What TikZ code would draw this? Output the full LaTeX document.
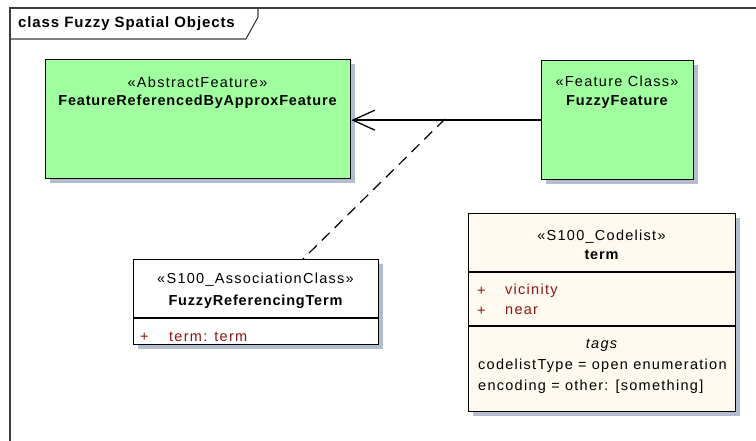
\documentclass[tikz,border=0pt]{standalone}
\usepackage{fontspec}
\setmainfont{Liberation Sans}[LetterSpace=8.8, BoldFeatures={LetterSpace=5.6}]
\newfontfamily\titlefont{Liberation Sans}[LetterSpace=6]
\usetikzlibrary{arrows.meta,shadows}
\definecolor{fgreen}{RGB}{160,255,158}
\definecolor{fcream}{RGB}{255,250,240}
\definecolor{fshadow}{RGB}{180,188,208}
\definecolor{fattr}{RGB}{140,20,20}
\definecolor{fframe}{RGB}{60,60,60}
\begin{document}
\begin{tikzpicture}[x=1pt,y=-1pt,
  font=\fontsize{14.5}{16}\selectfont,
  umlbox/.style={draw=black, line width=1.3pt, anchor=north west, inner sep=0pt,
    drop shadow={shadow xshift=4pt, shadow yshift=-4pt, fill=fshadow, opacity=1}},
  greenbox/.style={umlbox, fill=fgreen},
  whitebox/.style={umlbox, fill=white},
  creambox/.style={umlbox, fill=fcream},
  txt/.style={inner sep=0pt, anchor=center},
  bold/.style={txt, font=\fontsize{14.5}{16}\selectfont\bfseries},
  attr/.style={inner sep=0pt, anchor=west, text=fattr},
  plain/.style={inner sep=0pt, anchor=west},
  sep/.style={line width=1.1pt}
]
\useasboundingbox (0,0) rectangle (756,441);
% frame
\draw[fframe, line width=1.2pt] (10,441) -- (10,8) -- (756,8);
\draw[fframe, line width=1.1pt] (10,39) -- (246,39) -- (258,17) -- (258,8);
\node[txt, anchor=west, font=\fontsize{15}{16}\titlefont\bfseries] (title) at (18,24) {class Fuzzy Spatial Objects};

% FeatureReferencedByApproxFeature
\node[greenbox, minimum width=305pt, minimum height=119pt] (frb) at (45,59) {};
\node[txt] (frbst) at (197.5,82) {«AbstractFeature»};
\node[bold] (frbnm) at (197.5,102) {FeatureReferencedByApproxFeature};

% FuzzyFeature
\node[greenbox, minimum width=152pt, minimum height=119pt] (ff) at (541,60) {};
\node[txt] (ffst) at (617,81) {«Feature Class»};
\node[bold] (ffnm) at (617,102) {FuzzyFeature};

% FuzzyReferencingTerm
\node[whitebox, minimum width=245pt, minimum height=85pt] (frt) at (133,259) {};
\node[txt] (frtst) at (255.5,280) {«S100\_AssociationClass»};
\node[bold] (frtnm) at (255.5,302) {FuzzyReferencingTerm};
\draw[sep] (133,318) -- (378,318);
\node[attr] (frtp) at (140,337) {+};
\node[attr] (frta) at (169,337) {term: term};

% term codelist
\node[creambox, minimum width=267pt, minimum height=198pt] (term) at (468,213) {};
\node[txt] (termst) at (601.5,237) {«S100\_Codelist»};
\node[bold] (termnm) at (601.5,255) {term};
\draw[sep] (468,272) -- (735,272);
\node[attr] (tp1) at (477,291) {+};
\node[attr] (ta1) at (505,291) {vicinity};
\node[attr] (tp2) at (477,311) {+};
\node[attr] (ta2) at (505,311) {near};
\draw[sep] (468,326) -- (735,326);
\node[txt, font=\fontsize{14.5}{16}\selectfont\itshape] (tags) at (601.5,345) {tags};
\node[plain] (tg1) at (478,366) {codelistType = open enumeration};
\node[plain] (tg2) at (478,387) {encoding = other: [something]};

% association
\draw[line width=1.3pt, -{Straight Barb[length=22pt, width=20pt, line width=1.3pt]}] (ff.west) -- (ff.west -| frb.east);
\coordinate (amid) at (445,119);
\draw[line width=1.2pt, dash pattern=on 11pt off 7pt] (amid) -- (frt.north -| 303,0);
\end{tikzpicture}
\end{document}
